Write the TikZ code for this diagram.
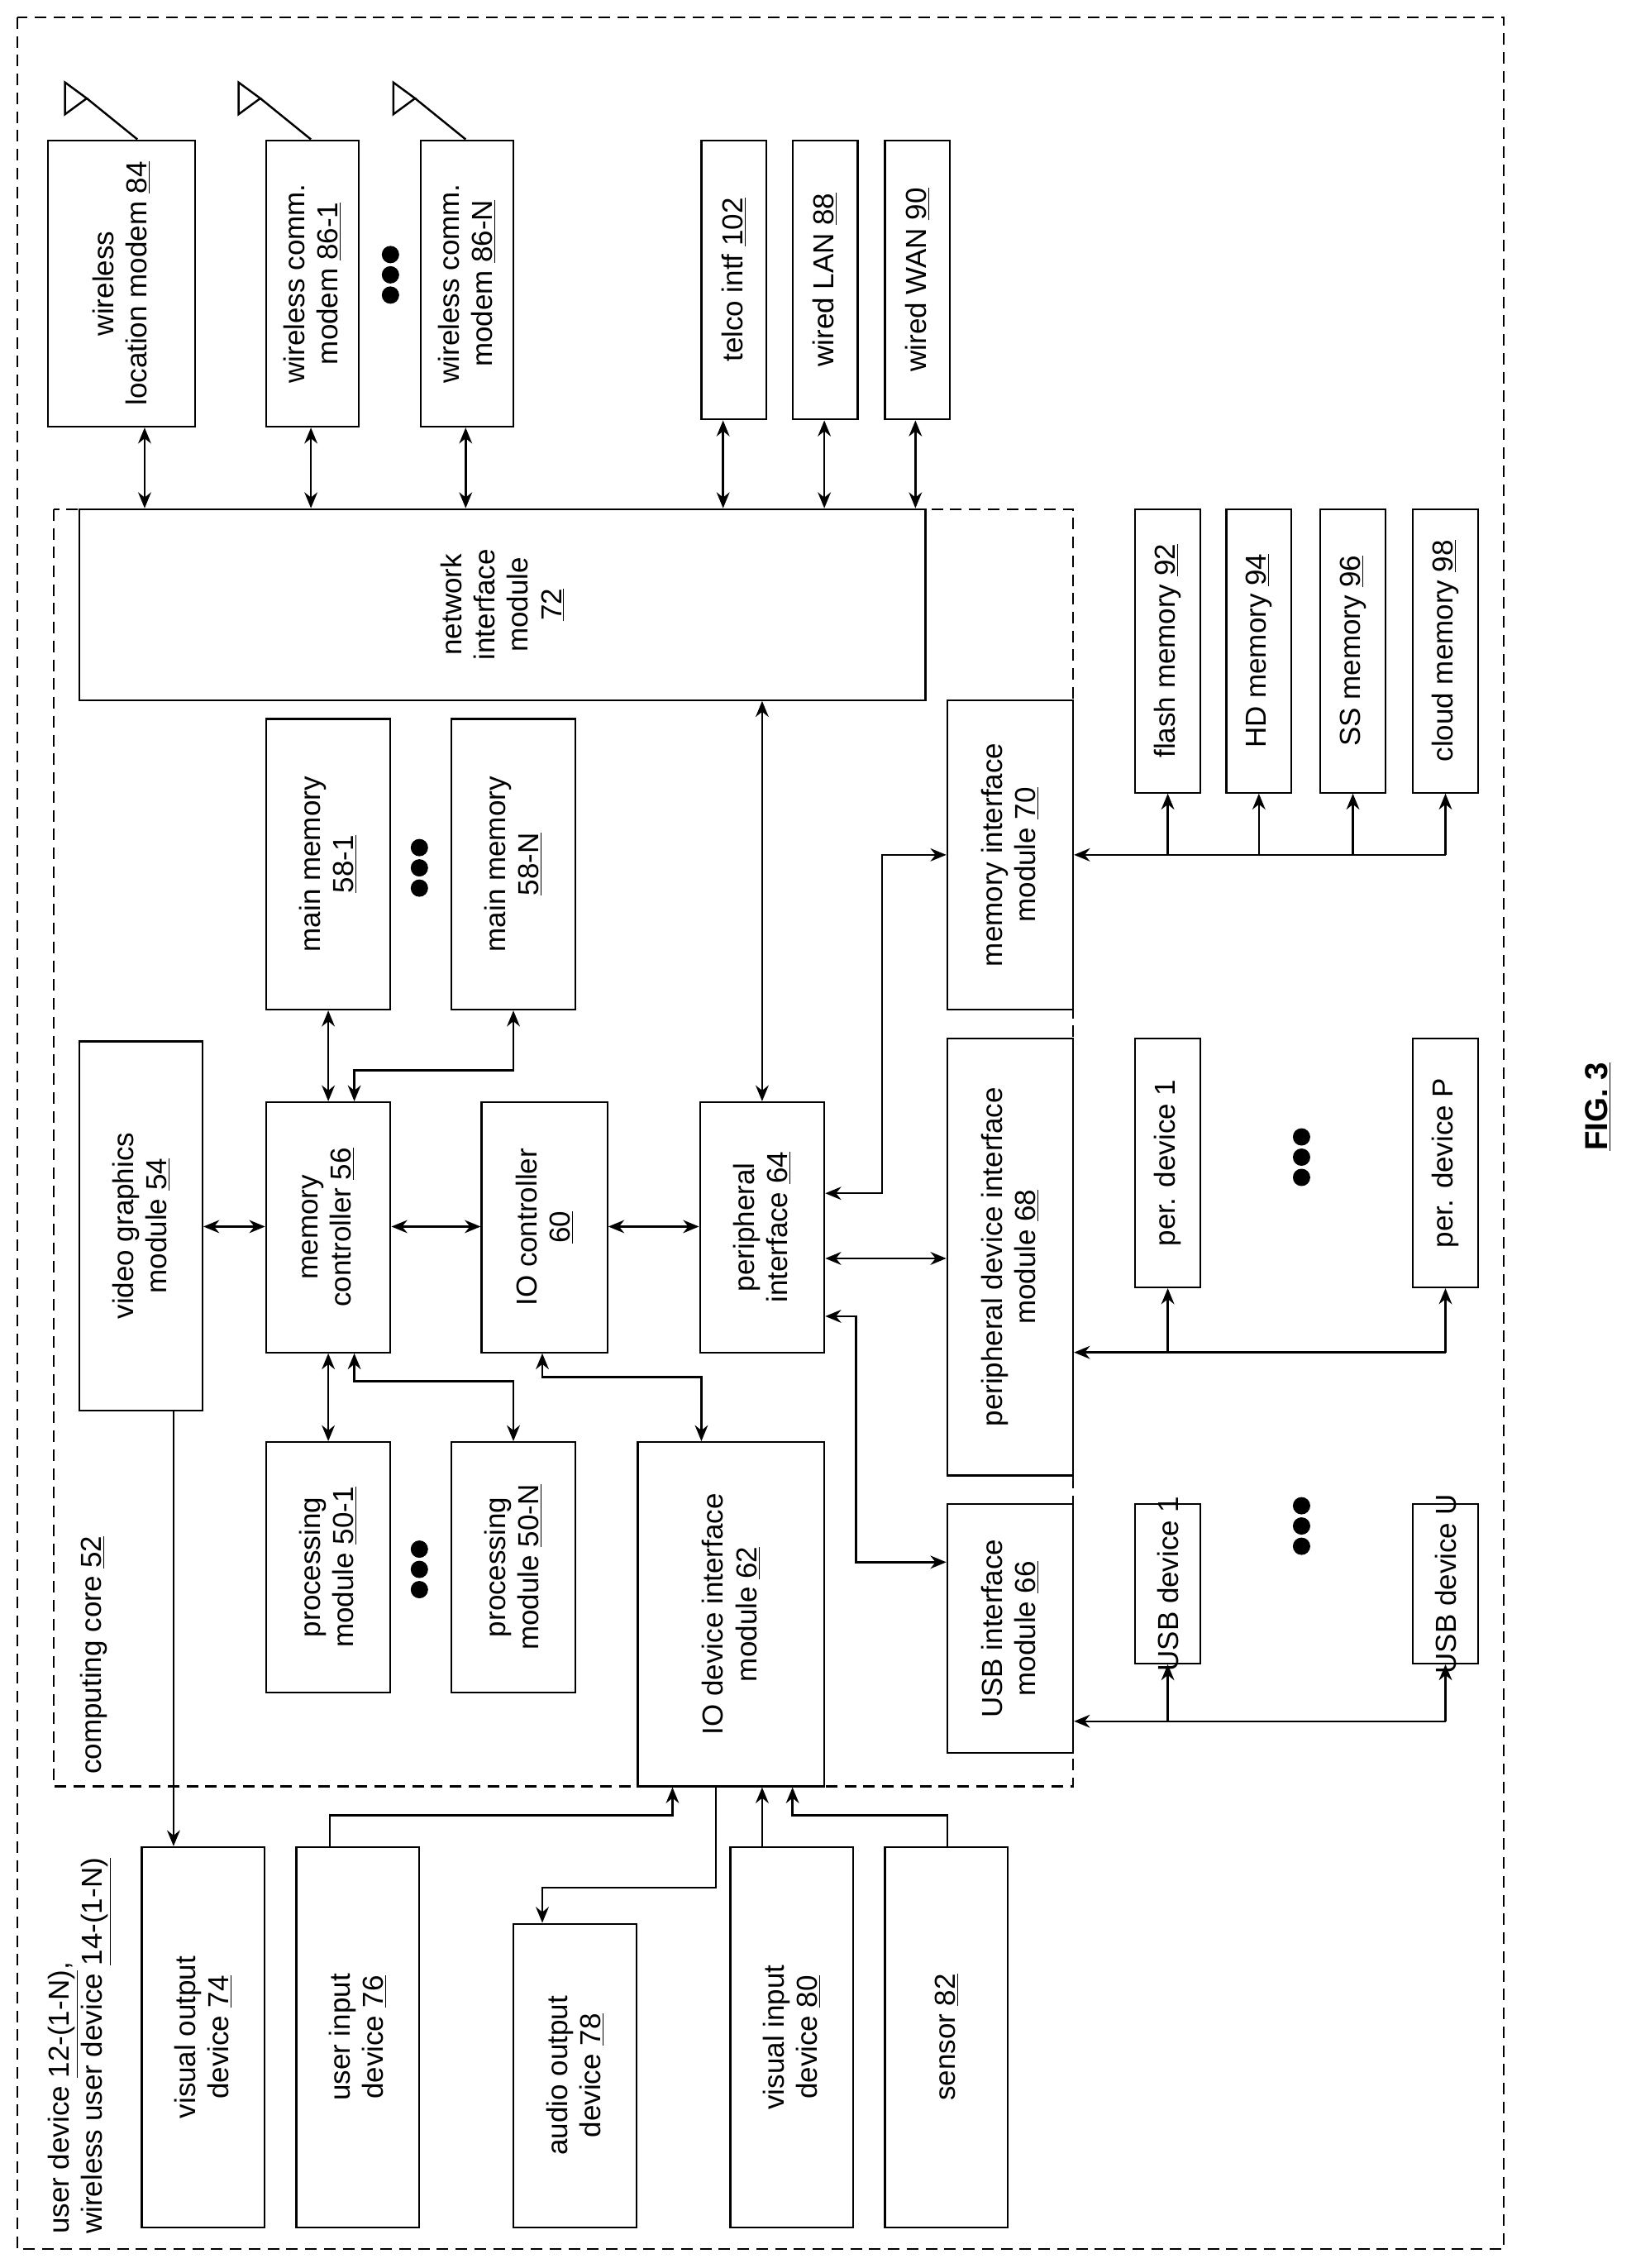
\documentclass[tikz,border=0pt]{standalone}
\usepackage{fontspec}
\setmainfont{Liberation Sans}
\usetikzlibrary{arrows.meta}
\begin{document}
\begin{tikzpicture}[x=1pt,y=-1pt,
  box/.style={draw,line width=1.3pt,inner sep=0pt},
  txt/.style={rotate=90,align=center,font=\fontsize{20}{23}\selectfont},
  ln/.style={line width=1.4pt},
  arr/.style={ln,-{Stealth[length=11pt,width=9pt]}},
  darr/.style={ln,{Stealth[length=11pt,width=9pt]}-{Stealth[length=11pt,width=9pt]}},
  dsh/.style={line width=1.2pt,dash pattern=on 8pt off 5pt},
  dot/.style={fill,circle,inner sep=0pt,minimum size=12pt}]
\useasboundingbox (0,0) rectangle (1131,1568);
\draw[dsh] (12,12) rectangle (1040,1555);
\draw[dsh] (37,352) rectangle (742,1235);
% boxes
\newcommand\bx[6]{\node[box,minimum width=#4pt,minimum height=#5pt] (#1) at (#2,#3) {};
  \node[txt] at (#1) {#6};}
\bx{wlm}{84}{196}{102}{198}{wireless\\location modem \underline{84}}
\bx{wc1}{216}{196}{64}{198}{wireless comm.\\modem \underline{86-1}}
\bx{wcN}{323}{196}{64}{198}{wireless comm.\\modem \underline{86-N}}
\bx{tel}{507.5}{193.5}{45}{193}{telco intf \underline{102}}
\bx{lan}{570.5}{193.5}{45}{193}{wired LAN \underline{88}}
\bx{wan}{634.5}{193.5}{45}{193}{wired WAN \underline{90}}
\bx{nim}{347.5}{418}{585}{132}{network\\interface\\module\\\underline{72}}
\bx{fm}{807.5}{450}{45}{196}{flash memory \underline{92}}
\bx{hd}{870.5}{450}{45}{196}{HD memory \underline{94}}
\bx{ss}{935.5}{450}{45}{196}{SS memory \underline{96}}
\bx{cm}{999.5}{450}{45}{196}{cloud memory \underline{98}}
\bx{mim}{698.5}{591}{87}{214}{memory interface\\module \underline{70}}
\bx{mm1}{227}{597.5}{86}{201}{main memory\\\underline{58-1}}
\bx{mmN}{355}{597.5}{86}{201}{main memory\\\underline{58-N}}
\bx{vg}{97.5}{847.5}{85}{255}{video graphics\\module \underline{54}}
\bx{mc}{227}{848.5}{86}{173}{memory\\controller \underline{56}}
\bx{ioc}{376.5}{848.5}{87}{173}{IO controller\\\underline{60}}
\bx{pi}{527}{848.5}{86}{173}{peripheral\\interface \underline{64}}
\bx{pdim}{698.5}{869}{87}{302}{peripheral device interface\\module \underline{68}}
\bx{pd1}{807.5}{804}{45}{172}{per. device 1}
\bx{pdP}{999.5}{804}{45}{172}{per. device P}
\bx{pm1}{227}{1083.5}{86}{173}{processing\\module \underline{50-1}}
\bx{pmN}{355}{1083.5}{86}{173}{processing\\module \underline{50-N}}
\bx{iod}{505.5}{1116}{129}{238}{IO device interface\\module \underline{62}}
\bx{usbm}{698.5}{1126}{87}{172}{USB interface\\module \underline{66}}
\bx{usb1}{807.5}{1095}{45}{110}{USB device 1}
\bx{usbU}{999.5}{1095}{45}{110}{USB device U}
\bx{vod}{140.5}{1408.5}{85}{263}{visual output\\device \underline{74}}
\bx{uid}{247.5}{1408.5}{85}{263}{user input\\device \underline{76}}
\bx{aod}{397.5}{1435}{85}{210}{audio output\\device \underline{78}}
\bx{vid}{547.5}{1408.5}{85}{263}{visual input\\device \underline{80}}
\bx{sen}{654.5}{1408.5}{85}{263}{sensor \underline{82}}
% labels
\node[txt,anchor=west,align=left] (ud) at (55,1548) {user device \underline{12-(1-N)},\\wireless user device \underline{14-(1-N)}};
\node[txt,anchor=west] (cc) at (65,1230) {computing core \underline{52}};
\node[rotate=90,font=\fontsize{22}{26}\selectfont\bfseries] (fig) at (1105,765) {\underline{FIG. 3}};
% dots
\foreach \n/\x/\y in {a/270/190,b/290/600,c/290/1085,d/900/800,e/900/1055}{
  \node[dot] (d\n1) at (\x,\y-14) {};\node[dot] (d\n2) at (\x,\y) {};\node[dot] (d\n3) at (\x,\y+14) {};}
% antennas
\foreach \b/\x in {wlm/45,wc1/165,wcN/272}{
  \coordinate (t\b) at (\x+15,68);
  \draw[ln] (\x,57) -- (\x,79) -- (t\b) -- cycle;
  \draw[ln] (t\b) -- (\b.north -| \x+50,0);}
% network arrows
\draw[darr] (wlm.south -| 100,0) -- (nim.north -| 100,0);
\draw[darr] (wc1.south -| 215,0) -- (nim.north -| 215,0);
\draw[darr] (wcN.south -| 322,0) -- (nim.north -| 322,0);
\draw[darr] (tel.south -| 500,0) -- (nim.north -| 500,0);
\draw[darr] (lan.south -| 570,0) -- (nim.north -| 570,0);
\draw[darr] (wan.south -| 633,0) -- (nim.north -| 633,0);
% memory bus
\draw[ln,{Stealth[length=11pt,width=9pt]}-] (mim.east) -- (999.5,591);
\foreach \m in {fm,hd,ss,cm} \draw[arr] (mim.east -| \m.south) -- (\m.south);
% per device bus
\draw[ln,{Stealth[length=11pt,width=9pt]}-] (pdim.east |- 0,935) -- (999.5,935);
\foreach \m in {pd1,pdP} \draw[arr] (\m.south |- 0,935) -- (\m.south);
\draw[ln,{Stealth[length=11pt,width=9pt]}-] (usbm.east |- 0,1190) -- (999.5,1190);
\foreach \m in {usb1,usbU} \draw[arr] (\m.south |- 0,1190) -- (\m.south);
% core
\draw[darr] (vg.east |- 0,848) -- (mc.west |- 0,848);
\draw[darr] (mc.east |- 0,848) -- (ioc.west |- 0,848);
\draw[darr] (ioc.east |- 0,848) -- (pi.west |- 0,848);
\draw[darr] (mc.north -| 227,0) -- (mm1.south -| 227,0);
\draw[darr] (mc.north -| 245,0) -- (245,740) -- (355,740) -- (mmN.south -| 355,0);
\draw[darr] (mc.south -| 227,0) -- (pm1.north -| 227,0);
\draw[darr] (mc.south -| 245,0) -- (245,955) -- (355,955) -- (pmN.north -| 355,0);
\draw[darr] (ioc.south -| 375,0) -- (375,952) -- (485,952) -- (iod.north -| 485,0);
\draw[darr] (pi.north) -- (nim.south -| pi.north);
\draw[darr] (pi.east |- 0,825) -- (610,825) -- (610,591) -- (mim.west);
\draw[darr] (pi.east |- 0,870) -- (pdim.west |- 0,870);
\draw[darr] (pi.east |- 0,910) -- (592,910) -- (592,1080) -- (usbm.west |- 0,1080);
% IO
\draw[arr] (vg.south -| 120,0) -- (vod.north -| 120,0);
\draw[arr] (uid.north -| 228,0) -- (228,1255) -- (465,1255) -- (iod.south -| 465,0);
\draw[arr] (iod.south -| 495,0) -- (495,1305) -- (375,1305) -- (aod.north -| 375,0);
\draw[arr] (vid.north -| 527,0) -- (iod.south -| 527,0);
\draw[arr] (sen.north -| 655,0) -- (655,1255) -- (548,1255) -- (iod.south -| 548,0);
\end{tikzpicture}
\end{document}
